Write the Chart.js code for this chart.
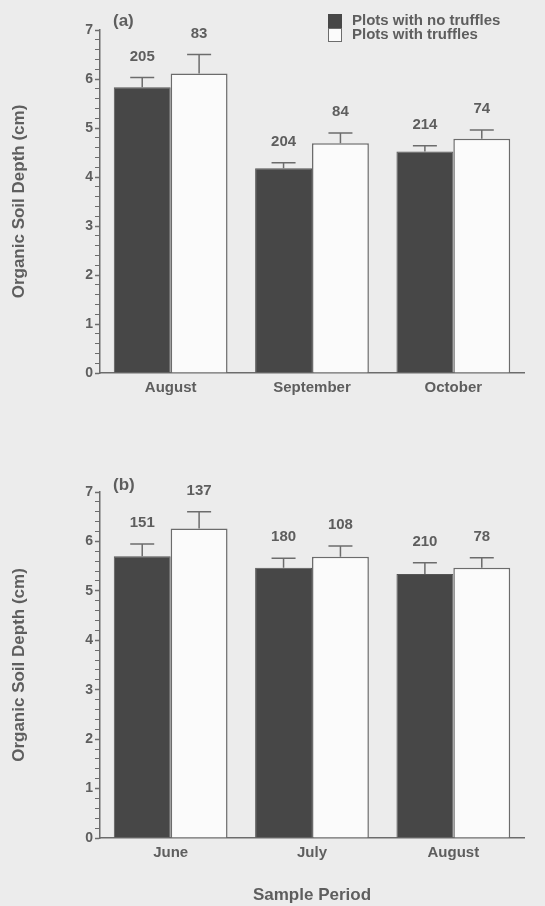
<!DOCTYPE html>
<html>
<head>
<meta charset="utf-8">
<script src="https://cdn.jsdelivr.net/npm/chart.js@4"></script>
<style>
  html, body { margin: 0; padding: 0; background: #ececec; }
  body { width: 545px; height: 906px; position: relative; overflow: hidden; }
  canvas { position: absolute; left: 0; }
  #chartA { top: 0; }
  #chartB { top: 450px; }
</style>
</head>
<body>
<canvas id="chartA" width="545" height="420"></canvas>
<canvas id="chartB" width="545" height="456"></canvas>
<script>
// panel (a)
const monthsA = ['August', 'September', 'October'];
const noTruffleA = [5.83, 4.18, 4.52];
const noTruffleErrA = [0.20, 0.11, 0.12];
const truffleA = [6.11, 4.69, 4.78];
const truffleErrA = [0.39, 0.21, 0.18];
const noTruffleNA = [205, 204, 214];
const truffleNA = [83, 84, 74];

// panel (b)
const monthsB = ['June', 'July', 'August'];
const noTruffleB = [5.70, 5.47, 5.34];
const noTruffleErrB = [0.25, 0.19, 0.23];
const truffleB = [6.26, 5.69, 5.47];
const truffleErrB = [0.34, 0.22, 0.20];
const noTruffleNB = [151, 180, 210];
const truffleNB = [137, 108, 78];

const yTicks = [0, 1, 2, 3, 4, 5, 6, 7];
const legendLabels = ['Plots with no truffles', 'Plots with truffles'];

const textColor = '#5e5e5e';
const lineColor = '#6c6c6c';
const darkFill = '#474747';
const lightFill = '#fbfbfb';
const fontFamily = "'Liberation Sans', Arial, sans-serif";

// error bars + sample sizes above them
const errorBarPlugin = {
    id: 'errorBars',
    afterDatasetsDraw(chart) {
        const ctx = chart.ctx;
        const yScale = chart.scales.y;
        ctx.save();
        chart.data.datasets.forEach((ds, di) => {
            const meta = chart.getDatasetMeta(di);
            meta.data.forEach((bar, i) => {
                const top = yScale.getPixelForValue(ds.data[i] + ds.errors[i]);
                const base = yScale.getPixelForValue(ds.data[i]);
                ctx.strokeStyle = lineColor;
                ctx.lineWidth = 1.5;
                ctx.beginPath();
                ctx.moveTo(bar.x, base);
                ctx.lineTo(bar.x, top);
                ctx.moveTo(bar.x - 12, top);
                ctx.lineTo(bar.x + 12, top);
                ctx.stroke();
                ctx.fillStyle = textColor;
                ctx.font = 'bold 15px ' + fontFamily;
                ctx.textAlign = 'center';
                ctx.textBaseline = 'middle';
                ctx.fillText(String(ds.counts[i]), bar.x, top - 21);
            });
        });
        ctx.restore();
    }
};

const panelLabelPlugin = {
    id: 'panelLabel',
    afterDraw(chart, args, opts) {
        const ctx = chart.ctx;
        ctx.save();
        ctx.fillStyle = textColor;
        ctx.font = 'bold 17px ' + fontFamily;
        ctx.textAlign = 'left';
        ctx.textBaseline = 'middle';
        ctx.fillText(opts.text, opts.x, opts.y);

        if (opts.legend) {
            const lx = 328, ly = 14, size = 14;
            ctx.fillStyle = darkFill;
            ctx.fillRect(lx, ly, size, size);
            ctx.fillStyle = lightFill;
            ctx.fillRect(lx, ly + size, size, size);
            ctx.strokeStyle = lineColor;
            ctx.lineWidth = 1;
            ctx.strokeRect(lx + 0.5, ly + size + 0.5, size - 1, size - 1);
            ctx.fillStyle = textColor;
            ctx.font = 'bold 15px ' + fontFamily;
            ctx.fillText(legendLabels[0], 352, ly + 7);
            ctx.fillText(legendLabels[1], 352, ly + size + 7);
        }
        ctx.restore();
    }
};

function makePanel(id, months, noT, noTErr, noTN, withT, withTErr, withTN, cfg) {
    const canvas = document.getElementById(id);
    return new Chart(canvas, {
        type: 'bar',
        data: {
            labels: months,
            datasets: [{
                label: legendLabels[0],
                data: noT,
                errors: noTErr,
                counts: noTN,
                backgroundColor: darkFill,
                borderColor: '#555',
                borderWidth: 1
            }, {
                label: legendLabels[1],
                data: withT,
                errors: withTErr,
                counts: withTN,
                backgroundColor: lightFill,
                borderColor: lineColor,
                borderWidth: 1.5
            }]
        },
        options: {
            responsive: false,
            animation: false,
            categoryPercentage: 0.805,
            barPercentage: 1.0,
            layout: {
                padding: { left: 0, right: 21, top: cfg.top, bottom: 0 }
            },
            plugins: {
                legend: { display: false },
                tooltip: { enabled: false },
                panelLabel: { text: cfg.letter, x: 113, y: cfg.letterY, legend: cfg.legend }
            },
            scales: {
                x: {
                    afterFit: (scale) => { scale.height = cfg.xHeight; },
                    border: { display: true, color: lineColor, width: 1.5 },
                    grid: { drawOnChartArea: false, drawTicks: false },
                    ticks: {
                        color: textColor,
                        padding: 6,
                        font: { family: fontFamily, size: 15, weight: 'bold' }
                    },
                    title: {
                        display: cfg.xTitle,
                        text: 'Sample Period',
                        color: textColor,
                        padding: { top: 0, bottom: 0 },
                        font: { family: fontFamily, size: 17, weight: 'bold' }
                    }
                },
                y: {
                    min: yTicks[0],
                    max: yTicks[yTicks.length - 1],
                    afterFit: (scale) => { scale.width = 100; },
                    border: { display: true, color: lineColor, width: 1.5 },
                    grid: {
                        drawOnChartArea: false,
                        drawTicks: true,
                        tickLength: 5,
                        tickColor: lineColor,
                        tickWidth: (c) => (c.tick && c.tick.label !== '' ? 1.5 : 1)
                    },
                    ticks: {
                        stepSize: 0.2,
                        autoSkip: false,
                        padding: 2,
                        color: textColor,
                        font: { family: fontFamily, size: 14, weight: 'bold' },
                        callback: (v) => {
                            const r = Math.round(v);
                            return (Math.abs(v - r) < 1e-6 && yTicks.includes(r)) ? String(r) : '';
                        }
                    },
                    title: {
                        display: true,
                        text: 'Organic Soil Depth (cm)',
                        color: textColor,
                        padding: { top: 9, bottom: 0 },
                        font: { family: fontFamily, size: 17, weight: 'bold' }
                    }
                }
            }
        },
        plugins: [errorBarPlugin, panelLabelPlugin]
    });
}

makePanel('chartA', monthsA, noTruffleA, noTruffleErrA, noTruffleNA,
    truffleA, truffleErrA, truffleNA,
    { top: 30, xHeight: 47, xTitle: false, letter: '(a)', letterY: 21, legend: true });

makePanel('chartB', monthsB, noTruffleB, noTruffleErrB, noTruffleNB,
    truffleB, truffleErrB, truffleNB,
    { top: 42, xHeight: 68, xTitle: true, letter: '(b)', letterY: 35, legend: false });
</script>
</body>
</html>
